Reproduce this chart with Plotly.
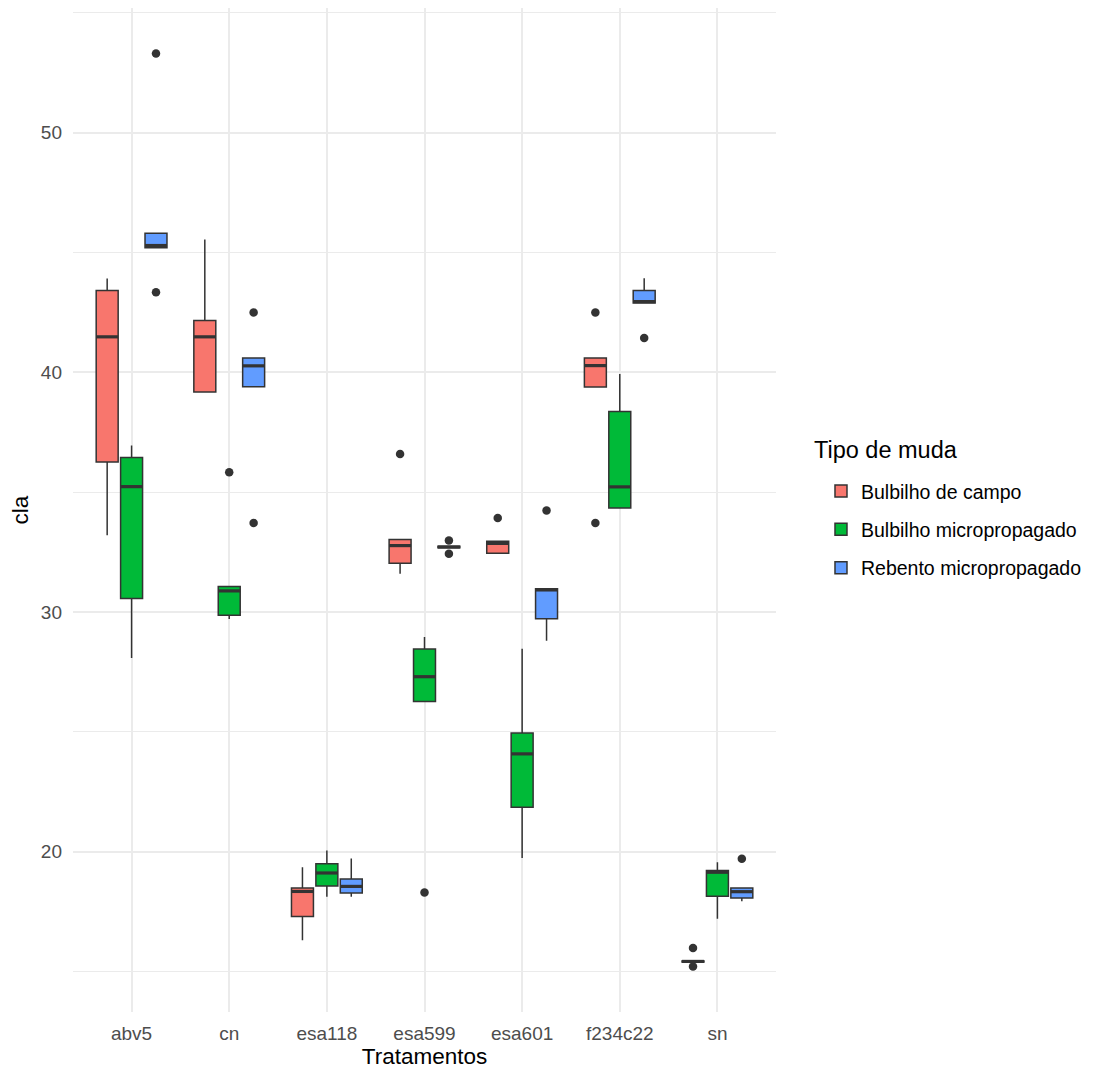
import plotly.graph_objects as go

tratamentos = ["abv5", "cn", "esa118", "esa599", "esa601", "f234c22", "sn"]
grupos = ["Bulbilho de campo", "Bulbilho micropropagado", "Rebento micropropagado"]
cores = ["#F8766D", "#00BA38", "#619CFF"]

# Box statistics per group (one value per treatment)
q1 = {
    "Bulbilho de campo":       [36.26, 39.18, 17.29, 32.03, 32.45, 39.39, 15.40],
    "Bulbilho micropropagado": [30.56, 29.86, 18.57, 26.27, 21.85, 34.34, 18.14],
    "Rebento micropropagado":  [45.20, 39.40, 18.28, 32.68, 29.72, 42.89, 18.07],
}
mediana = {
    "Bulbilho de campo":       [41.48, 41.48, 18.34, 32.77, 32.86, 40.28, 15.42],
    "Bulbilho micropropagado": [35.23, 30.88, 19.11, 27.30, 24.08, 35.22, 19.14],
    "Rebento micropropagado":  [45.29, 40.27, 18.55, 32.71, 30.92, 42.95, 18.33],
}
q3 = {
    "Bulbilho de campo":       [43.41, 42.16, 18.48, 33.02, 32.95, 40.60, 15.44],
    "Bulbilho micropropagado": [36.45, 31.06, 19.50, 28.46, 24.95, 38.36, 19.21],
    "Rebento micropropagado":  [45.80, 40.60, 18.86, 32.74, 30.97, 43.41, 18.48],
}
bigode_inf = {
    "Bulbilho de campo":       [33.20, 39.18, 16.30, 31.60, 32.45, 39.39, 15.40],
    "Bulbilho micropropagado": [28.08, 29.71, 18.12, 26.27, 19.74, 34.34, 17.20],
    "Rebento micropropagado":  [45.20, 39.40, 18.12, 32.68, 28.80, 42.89, 17.93],
}
bigode_sup = {
    "Bulbilho de campo":       [43.91, 45.54, 19.35, 33.02, 32.95, 40.60, 15.44],
    "Bulbilho micropropagado": [36.95, 31.06, 20.05, 28.96, 28.47, 39.93, 19.56],
    "Rebento micropropagado":  [45.80, 40.60, 19.71, 32.74, 30.97, 43.92, 18.48],
}
# Outliers: treatment and value per group
outliers_trat = {
    "Bulbilho de campo":       ["esa599", "esa601", "f234c22", "f234c22", "sn", "sn"],
    "Bulbilho micropropagado": ["cn", "esa599"],
    "Rebento micropropagado":  ["abv5", "abv5", "cn", "cn", "esa599", "esa599", "esa601", "f234c22", "sn"],
}
outliers_val = {
    "Bulbilho de campo":       [36.59, 33.92, 42.50, 33.71, 15.98, 15.21],
    "Bulbilho micropropagado": [35.83, 18.30],
    "Rebento micropropagado":  [53.30, 43.34, 42.50, 33.71, 32.98, 32.43, 34.23, 41.43, 19.70],
}

dodge = 0.25
box_w = 0.225
FONT = "Liberation Sans, Arial, sans-serif"
idx = {t: i + 1 for i, t in enumerate(tratamentos)}

fig = go.Figure()
for gi, g in enumerate(grupos):
    off = (gi - 1) * dodge
    xs = [i + 1 + off for i in range(len(tratamentos))]
    fig.add_trace(go.Box(
        x=xs, q1=q1[g], median=mediana[g], q3=q3[g],
        lowerfence=bigode_inf[g], upperfence=bigode_sup[g],
        width=box_w, fillcolor=cores[gi], line=dict(color="#333333", width=1.5),
        whiskerwidth=0, name=g, legendgroup=g, boxpoints=False,
    ))
    # thicker median lines (ggplot fatten)
    mx, my = [], []
    for x, m in zip(xs, mediana[g]):
        mx += [x - box_w / 2, x + box_w / 2, None]
        my += [m, m, None]
    fig.add_trace(go.Scatter(x=mx, y=my, mode="lines", line=dict(color="#333333", width=3.2),
                             showlegend=False, legendgroup=g, hoverinfo="skip"))
    fig.add_trace(go.Scatter(
        x=[idx[t] + off for t in outliers_trat[g]], y=outliers_val[g], mode="markers",
        marker=dict(color="#333333", size=8.5), showlegend=False, legendgroup=g))

fig.add_annotation(
    text="Tipo de muda", xref="paper", yref="paper", x=1.051, y=0.560,
    xanchor="left", yanchor="middle", showarrow=False,
    font=dict(size=23.5, family=FONT, color="#000000"),
)

fig.update_layout(
    width=1106, height=1072,
    paper_bgcolor="white", plot_bgcolor="white",
    margin=dict(l=65, r=338, t=0, b=68, autoexpand=False),
    boxmode="overlay",
    font=dict(family=FONT, color="#000000"),
    legend=dict(
        font=dict(size=19.5, family=FONT, color="#000000"),
        x=1.064, xanchor="left", y=0.538, yanchor="top",
        tracegroupgap=10, bgcolor="rgba(0,0,0,0)",
    ),
    showlegend=True,
)
fig.update_xaxes(
    range=[0.4, 7.6], tickmode="array", tickvals=list(range(1, 8)), ticktext=tratamentos,
    showgrid=True, gridcolor="#ebebeb", gridwidth=2, zeroline=False, showline=False,
    ticks="", tickfont=dict(size=19, color="#4d4d4d"), ticklabelstandoff=8,
    title=dict(text="Tratamentos", font=dict(size=22.5, color="#000000"), standoff=2),
    automargin=False,
)
fig.update_yaxes(
    range=[13.31, 55.2], tick0=0, dtick=10,
    showgrid=True, gridcolor="#ebebeb", gridwidth=2, zeroline=False, showline=False,
    minor=dict(dtick=5, tick0=0, showgrid=True, gridcolor="#ebebeb", gridwidth=1),
    ticks="", tickfont=dict(size=19, color="#4d4d4d"), ticklabelstandoff=10,
    title=dict(text="cla", font=dict(size=22.5, color="#000000"), standoff=6),
    automargin=False,
)
fig.write_html("out.html")
